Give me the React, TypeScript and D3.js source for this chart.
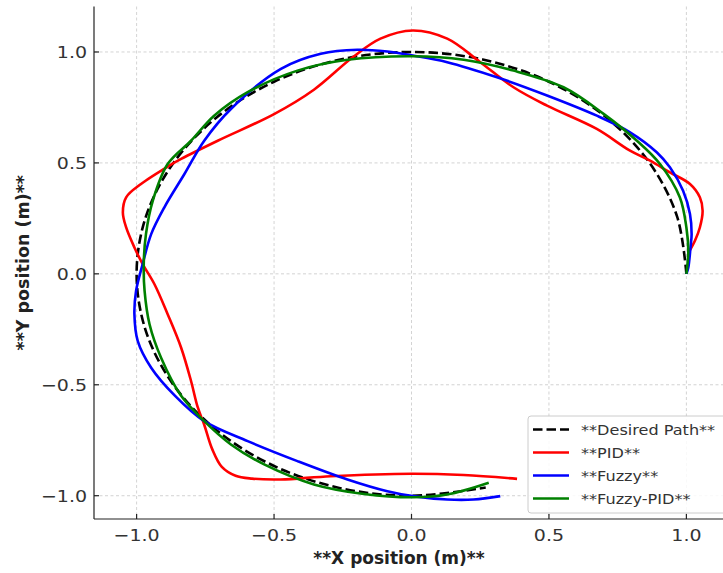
import React, { useEffect, useRef } from "react"
import * as d3 from "d3"

// tick values on both axes
const xTicks = [-1.0, -0.5, 0.0, 0.5, 1.0]
const yTicks = [-1.0, -0.5, 0.0, 0.5, 1.0]

// trajectories, [x, y] in metres
const desiredPath: [number, number][] = [
    [1.0, 0.0], [0.966, 0.259], [0.866, 0.5], [0.707, 0.707], [0.5, 0.866],
    [0.259, 0.966], [0.0, 1.0], [-0.259, 0.966], [-0.5, 0.866], [-0.707, 0.707],
    [-0.866, 0.5], [-0.966, 0.259], [-1.0, 0.0], [-0.966, -0.259], [-0.866, -0.5],
    [-0.707, -0.707], [-0.5, -0.866], [-0.259, -0.966], [0.0, -1.0], [0.27, -0.963]
]

const pidPath: [number, number][] = [
    [1.01, 0.1], [1.031, 0.149], [1.049, 0.209], [1.059, 0.284], [1.049, 0.345],
    [1.013, 0.405], [0.94, 0.457], [0.868, 0.51], [0.795, 0.555], [0.674, 0.653],
    [0.493, 0.758], [0.371, 0.841], [0.25, 0.954], [0.13, 1.06], [0.005, 1.097],
    [-0.113, 1.06], [-0.215, 0.975], [-0.355, 0.83], [-0.5, 0.72], [-0.705, 0.6],
    [-0.838, 0.518], [-0.875, 0.492], [-0.984, 0.405], [-1.038, 0.345], [-1.05, 0.277],
    [-1.038, 0.209], [-1.008, 0.119], [-0.978, 0.044], [-0.935, -0.047], [-0.887, -0.182],
    [-0.838, -0.333], [-0.802, -0.483], [-0.778, -0.6], [-0.754, -0.68], [-0.725, -0.79],
    [-0.69, -0.87], [-0.64, -0.91], [-0.58, -0.923], [-0.476, -0.927], [-0.294, -0.912],
    [0.0, -0.901], [0.19, -0.907], [0.384, -0.924]
]

const fuzzyPath: [number, number][] = [
    [1.0, 0.0], [1.007, 0.029], [1.015, 0.119], [1.019, 0.179], [1.013, 0.27],
    [0.988, 0.375], [0.94, 0.48], [0.892, 0.548], [0.795, 0.638], [0.674, 0.713],
    [0.493, 0.804], [0.311, 0.886], [0.13, 0.954], [0.005, 0.984], [-0.088, 1.002],
    [-0.197, 1.01], [-0.33, 0.992], [-0.475, 0.924], [-0.657, 0.743], [-0.754, 0.6],
    [-0.826, 0.45], [-0.899, 0.3], [-0.947, 0.179], [-0.978, 0.044], [-1.002, -0.077],
    [-1.008, -0.182], [-0.996, -0.302], [-0.947, -0.423], [-0.86, -0.55], [-0.754, -0.664],
    [-0.596, -0.754], [-0.415, -0.844], [-0.233, -0.927], [-0.088, -0.98], [0.005, -1.002],
    [0.13, -1.017], [0.226, -1.017], [0.323, -1.002]
]

const fuzzyPidPath: [number, number][] = [
    [1.0, 0.0], [1.007, 0.104], [1.0, 0.209], [0.976, 0.345], [0.904, 0.495],
    [0.82, 0.6], [0.7, 0.72], [0.553, 0.841], [0.371, 0.916], [0.19, 0.965],
    [0.005, 0.981], [-0.233, 0.965], [-0.415, 0.916], [-0.596, 0.819], [-0.718, 0.713],
    [-0.802, 0.6], [-0.887, 0.495], [-0.941, 0.33], [-0.966, 0.179], [-0.974, 0.044],
    [-0.971, -0.077], [-0.953, -0.227], [-0.911, -0.378], [-0.838, -0.55], [-0.754, -0.664],
    [-0.657, -0.769], [-0.536, -0.859], [-0.355, -0.949], [-0.173, -0.992], [0.005, -1.007],
    [0.13, -0.995], [0.281, -0.942]
]

const seriesNames = ["**Desired Path**", "**PID**", "**Fuzzy**", "**Fuzzy-PID**"]
const seriesColors = ["#000000", "#ff0000", "#0000ff", "#008000"]
const seriesData = [desiredPath, pidPath, fuzzyPath, fuzzyPidPath]

const FONT = "DejaVu Sans, sans-serif"
const STRETCH = 1.15 // the source picture is a bit wider than tall, text included

export default function App() {
    const ref = useRef<SVGSVGElement>(null)

    useEffect(() => {
        const svg = d3.select(ref.current)
        svg.selectAll("*").remove()

        const left = 94, right = 729, top = 6.5, bottom = 519

        const x = d3.scaleLinear().domain([-1.155, 1.155]).range([left, right])
        const y = d3.scaleLinear().domain([-1.105, 1.205]).range([bottom, top])
        const fmt = d3.format(".1f")
        const at = (px: number, py: number) =>
            "translate(" + px + "," + py + ") scale(" + STRETCH + ",1)"

        // grid
        const grid = svg.append("g")
            .attr("stroke", "#c8c8c8")
            .attr("stroke-width", 0.8)
            .attr("stroke-dasharray", "3,2.5")
        grid.selectAll("line.gx")
            .data(xTicks)
            .enter().append("line")
            .attr("x1", d => x(d)).attr("x2", d => x(d))
            .attr("y1", top).attr("y2", bottom)
        grid.selectAll("line.gy")
            .data(yTicks)
            .enter().append("line")
            .attr("x1", left).attr("x2", right)
            .attr("y1", d => y(d)).attr("y2", d => y(d))

        // lines
        const line = d3.line<[number, number]>()
            .x(d => x(d[0]))
            .y(d => y(d[1]))
            .curve(d3.curveCatmullRom.alpha(0.5))

        seriesData.forEach((data, i) => {
            svg.append("path")
                .datum(data)
                .attr("d", line)
                .attr("fill", "none")
                .attr("stroke", seriesColors[i])
                .attr("stroke-width", 2.6)
                .attr("stroke-dasharray", i == 0 ? "9.5,4" : null)
        })

        // spines + inward ticks
        const axes = svg.append("g").attr("stroke", "#222").attr("stroke-width", 1.2)
        axes.append("line").attr("x1", left).attr("x2", left).attr("y1", top).attr("y2", bottom)
        axes.append("line").attr("x1", left).attr("x2", right).attr("y1", bottom).attr("y2", bottom)
        axes.selectAll("line.tx")
            .data(xTicks)
            .enter().append("line")
            .attr("x1", d => x(d)).attr("x2", d => x(d))
            .attr("y1", bottom).attr("y2", bottom - 5)
        axes.selectAll("line.ty")
            .data(yTicks)
            .enter().append("line")
            .attr("x1", left).attr("x2", left + 5)
            .attr("y1", d => y(d)).attr("y2", d => y(d))

        // tick labels
        svg.selectAll("text.xt")
            .data(xTicks)
            .enter().append("text")
            .attr("transform", d => at(x(d), bottom + 22))
            .attr("text-anchor", "middle")
            .attr("font-family", FONT)
            .attr("font-size", 16.5)
            .attr("fill", "#333")
            .text(d => fmt(d))
        svg.selectAll("text.yt")
            .data(yTicks)
            .enter().append("text")
            .attr("transform", d => at(left - 7, y(d) + 6))
            .attr("text-anchor", "end")
            .attr("font-family", FONT)
            .attr("font-size", 16.5)
            .attr("fill", "#333")
            .text(d => fmt(d))

        // axis titles
        svg.append("text")
            .attr("x", 399)
            .attr("y", 564)
            .attr("text-anchor", "middle")
            .attr("font-family", FONT)
            .attr("font-size", 17)
            .attr("font-weight", "bold")
            .attr("fill", "#222")
            .text("**X position (m)**")
        svg.append("text")
            .attr("transform", "translate(29," + (top + bottom) / 2 + ") rotate(-90)")
            .attr("text-anchor", "middle")
            .attr("font-family", FONT)
            .attr("font-size", 17.5)
            .attr("font-weight", "bold")
            .attr("fill", "#222")
            .text("**Y position (m)**")

        // legend
        const lg = svg.append("g").attr("transform", "translate(528,416)")
        lg.append("rect")
            .attr("width", 202).attr("height", 97).attr("rx", 3)
            .attr("fill", "white").attr("fill-opacity", 0.85)
            .attr("stroke", "#cccccc")
        seriesNames.forEach((name, i) => {
            const ry = 13.5 + i * 23
            lg.append("line")
                .attr("x1", 5).attr("x2", 41)
                .attr("y1", ry).attr("y2", ry)
                .attr("stroke", seriesColors[i])
                .attr("stroke-width", 2.6)
                .attr("stroke-dasharray", i == 0 ? "9.5,4" : null)
            lg.append("text")
                .attr("transform", at(53, ry + 5))
                .attr("font-family", FONT)
                .attr("font-size", 14)
                .attr("fill", "#333")
                .text(name)
        })
    }, [])

    return (
        <svg ref={ref} width={723} height={573}
            style={{ position: "absolute", left: 0, top: 0, background: "white" }} />
    )
}
